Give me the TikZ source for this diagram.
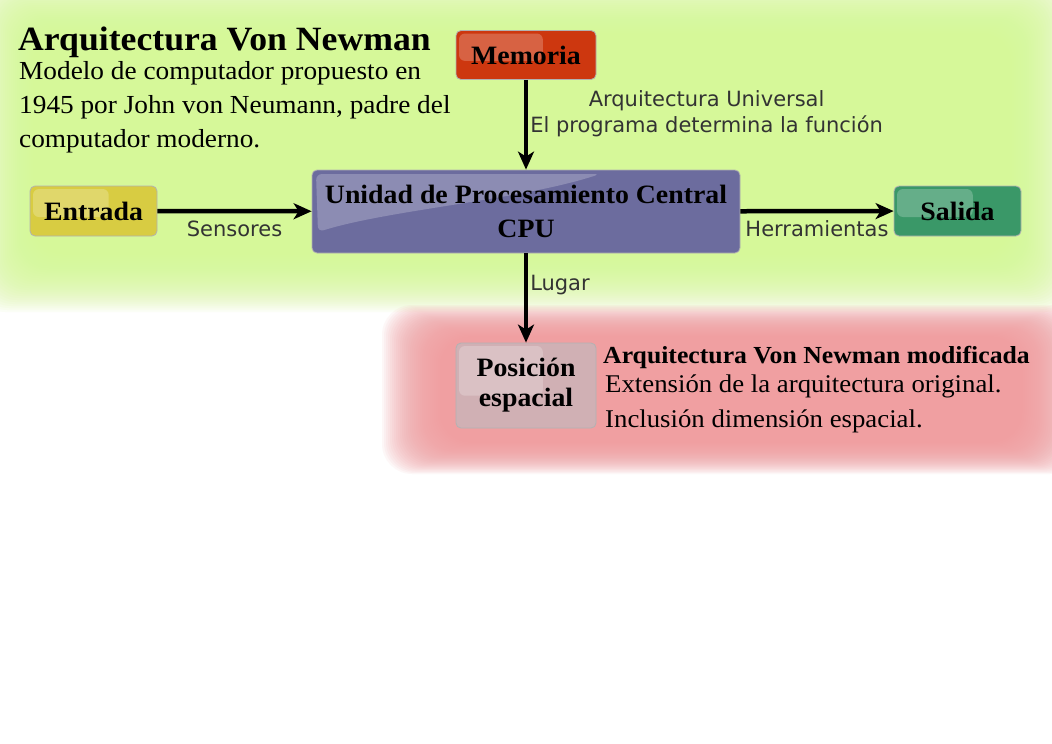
\documentclass[tikz,border=0pt]{standalone}
\usepackage{fontspec}
\setmainfont[FakeStretch=1.05]{Liberation Serif}
\newfontfamily\labelfont{DejaVu Sans}
\usepackage{tikz}
\usetikzlibrary{arrows.meta,positioning,calc}
\definecolor{glowgreen}{RGB}{214,248,150}
\definecolor{glowred}{RGB}{240,156,158}
\definecolor{memred}{RGB}{205,55,15}
\definecolor{entyellow}{RGB}{216,204,66}
\definecolor{cpublue}{RGB}{108,108,158}
\definecolor{salgreen}{RGB}{58,152,104}
\definecolor{posgray}{RGB}{208,176,180}

\tikzset{
  block/.style={rounded corners=5pt, draw=white!70!black, line width=0.8pt,
    align=center, font=\fontsize{26.5}{34}\selectfont\bfseries,
    path picture={\fill[white, opacity=0.22, rounded corners=6pt]
      ($(path picture bounding box.north west)+(3pt,-3pt)$) rectangle
      ($(path picture bounding box.north west)!0.62!(path picture bounding box.south east)$);}},
  sweep/.style={path picture={\fill[white, opacity=0.22, rounded corners=6pt]
      ($(path picture bounding box.north west)+(4pt,-4pt)$) -- ++(284pt,0pt)
      .. controls +(-80pt,-26pt) and +(70pt,22pt) .. ($(path picture bounding box.north west)+(6pt,-62pt)$)
      -- cycle;}},
  link/.style={line width=4.5pt, -{Stealth[length=18pt,width=16pt,inset=5pt]}},
  linklabel/.style={font=\labelfont\fontsize{21}{26}\selectfont, text=black!80, inner sep=2pt}
}

\begin{document}
\begin{tikzpicture}[x=1pt, y=-1pt]
    \useasboundingbox (0,0) rectangle (1052,744);
    \fill[white] (0,0) rectangle (1052,744);

    % halos de fondo
    \foreach \i in {0,...,29}
      \fill[glowgreen, opacity=0.08, rounded corners=30pt]
        (\i*2-25, \i*2-25) rectangle (1075-\i*2.2, 312-\i*2);
    \foreach \i in {0,...,29}
      \fill[glowred, opacity=0.08, rounded corners=30pt]
        (382+\i*2, 305+\i*1.1) rectangle (1080-\i*2, 474-\i*1.1);

    % textos
    \node[anchor=base west, inner sep=0pt, font=\fontsize{34}{36}\selectfont\bfseries]
      (titulo) at (18,50) {Arquitectura Von Newman};
    \node[anchor=north west, inner sep=0pt, align=left, font=\fontsize{26}{34}\selectfont]
      (modelo) at (19,61) {Modelo de computador propuesto en\\1945 por John von Neumann, padre del\\computador moderno.};

    % bloques
    \node[block, fill=memred, minimum width=140pt, minimum height=49pt] (mem) at (526,55) {Memoria};
    \node[block, fill=entyellow, minimum width=127pt, minimum height=50pt] (ent) at (93.5,211) {Entrada};
    \node[block, sweep, fill=cpublue, minimum width=428pt, minimum height=83pt] (cpu) at (526,211.5)
      {Unidad de Procesamiento Central\\CPU};
    \node[block, fill=salgreen, minimum width=127pt, minimum height=50pt] (sal) at (957.5,211) {Salida};
    \node[block, fill=posgray, minimum width=140pt, minimum height=85pt,
      font=\fontsize{26.5}{30}\selectfont\bfseries] (pos) at (526,385.5) {Posición\\espacial};

    % conexiones
    \draw[link] (mem) -- (cpu)
      node[linklabel, right, align=center, pos=0.38] {Arquitectura Universal\\El programa determina la función};
    \draw[link] (ent) -- (cpu) node[linklabel, below=5pt, midway] {Sensores};
    \draw[link] (cpu) -- (sal) node[linklabel, below=5pt, midway] {Herramientas};
    \draw[link] (cpu) -- (pos) node[linklabel, right, pos=0.35] {Lugar};

    % arquitectura modificada
    \node[anchor=base west, inner sep=0pt, font=\fontsize{24.5}{26}\selectfont\bfseries]
      (modtitulo) at (603,363) {Arquitectura Von Newman modificada};
    \node[anchor=north west, inner sep=0pt, align=left, font=\fontsize{25.5}{35}\selectfont]
      (modtexto) at (605,375) {Extensión de la arquitectura original.\\Inclusión dimensión espacial.};
\end{tikzpicture}
\end{document}
